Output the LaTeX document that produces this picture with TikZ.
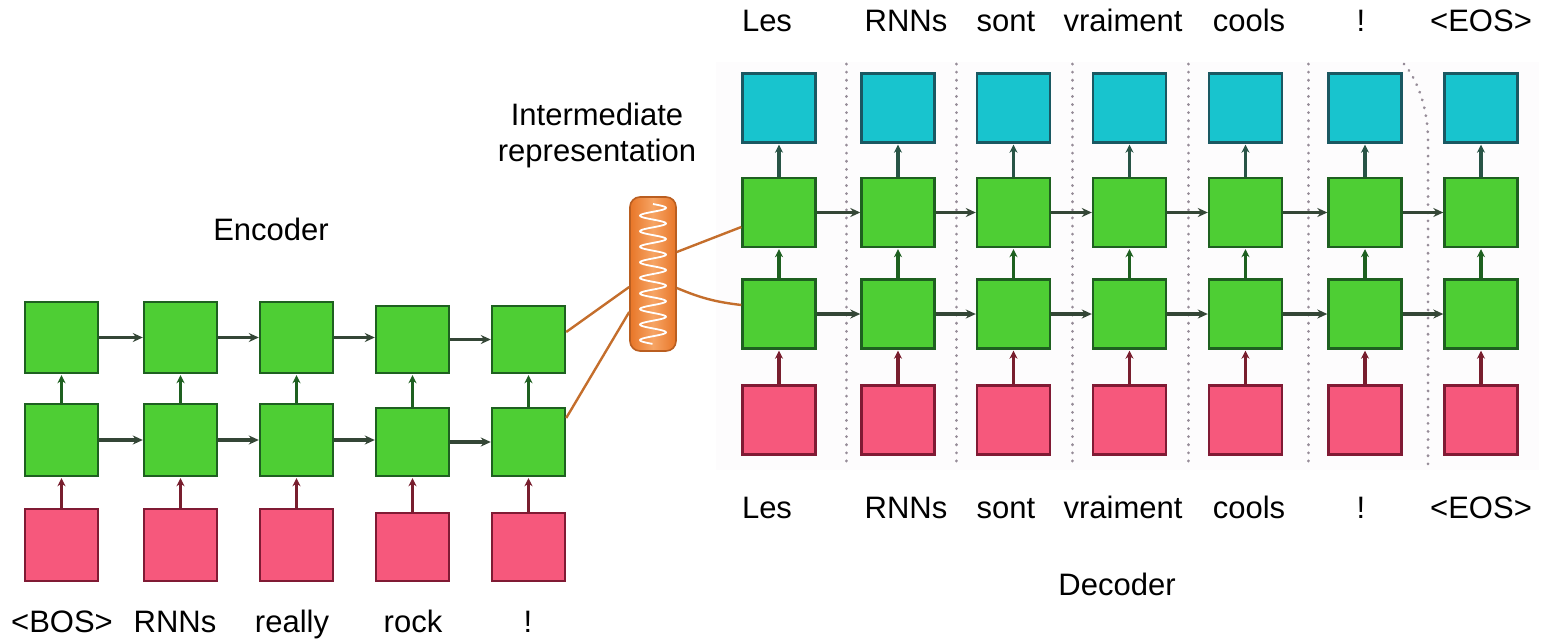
\documentclass[tikz,border=0pt]{standalone}
\usepackage{fontspec}
\setmainfont{Liberation Sans}
\usetikzlibrary{arrows.meta}

\definecolor{cellgreen}{RGB}{78,206,52}
\definecolor{cellgreenline}{RGB}{30,96,32}
\definecolor{cellpink}{RGB}{246,88,124}
\definecolor{cellpinkline}{RGB}{128,26,52}
\definecolor{cellcyan}{RGB}{24,196,206}
\definecolor{cellcyanline}{RGB}{26,88,98}
\definecolor{flowgray}{RGB}{52,70,54}
\definecolor{flowred}{RGB}{120,30,46}
\definecolor{flowteal}{RGB}{40,84,70}
\definecolor{linkorange}{RGB}{196,110,44}
\definecolor{reporange}{RGB}{232,118,40}
\definecolor{reporangelight}{RGB}{246,164,100}
\definecolor{sepgray}{RGB}{150,140,152}
\definecolor{panelbg}{RGB}{253,252,253}

\begin{document}
\begin{tikzpicture}[x=1pt,y=-1pt,
  cell/.style={draw, line width=2.4pt, minimum width=73pt, minimum height=69pt, inner sep=0pt},
  gcell/.style={cell, fill=cellgreen, draw=cellgreenline},
  pcell/.style={cell, fill=cellpink, draw=cellpinkline},
  ccell/.style={cell, fill=cellcyan, draw=cellcyanline},
  lbl/.style={font=\fontsize{31}{37}\selectfont, anchor=base, inner sep=0pt},
  hflow/.style={draw=flowgray, line width=3.4pt, -{Stealth[length=10pt,width=9pt]}},
  vflow/.style={line width=3.2pt, -{Stealth[length=8pt,width=8pt]}, shorten >=1pt},
  link/.style={draw=linkorange, line width=2.4pt},
  sepline/.style={draw=sepgray, line width=3pt, line cap=round, dash pattern=on 0.1pt off 8pt}
]
\useasboundingbox (0,0) rectangle (1541,642);

% faint panel behind the decoder grid
\fill[panelbg] (716,62) rectangle (1539,470);

% dotted separators between decoder time steps
\foreach \sx in {846,956,1072,1188,1308}
  \draw[sepline] (\sx,64) -- (\sx,468);
\draw[sepline] (1404,64) .. controls (1418,80) and (1428,110) .. (1428,140) -- (1428,468);

% ---------------- encoder ----------------
\foreach \i/\cx/\h/\d in {1/61.5/71/0,2/180.5/71/0,3/296.5/71/0,4/412.5/67/2,5/528.5/67/2} {
  \node[gcell, minimum height=\h pt] (eh\i) at (\cx,337.5+\d) {};
  \node[gcell, minimum height=\h pt+1pt] (el\i) at (\cx,440+\d) {};
  \node[pcell, minimum height=\h pt+1pt] (ep\i) at (\cx,545+\d) {};
  \draw[vflow, draw=flowred] (ep\i.north) -- (el\i.south);
  \draw[vflow, draw=cellgreenline] (el\i.north) -- (eh\i.south);
}
\foreach \i [evaluate=\i as \j using int(\i+1)] in {1,...,4} {
  \draw[hflow] (eh\i.east) -- (eh\i.east -| eh\j.west);
  \draw[hflow] (el\i.east) -- (el\i.east -| el\j.west);
}

% ---------------- decoder ----------------
\foreach \i/\cx in {1/779,2/898,3/1013.5,4/1129.5,5/1245.5,6/1365,7/1481} {
  \node[ccell] (dc\i) at (\cx,108) {};
  \node[gcell] (dh\i) at (\cx,212.5) {};
  \node[gcell] (dl\i) at (\cx,314) {};
  \node[pcell] (dp\i) at (\cx,420) {};
  \draw[vflow, draw=flowred] (dp\i.north) -- (dl\i.south);
  \draw[vflow, draw=cellgreenline] (dl\i.north) -- (dh\i.south);
  \draw[vflow, draw=flowteal] (dh\i.north) -- (dc\i.south);
}
\foreach \i [evaluate=\i as \j using int(\i+1)] in {1,...,6} {
  \draw[hflow] (dh\i.east) -- (dh\j.west);
  \draw[hflow] (dl\i.east) -- (dl\j.west);
}

% ---------------- intermediate representation ----------------
\node[draw=reporange!80!black, line width=1.6pt, rounded corners=10pt,
      minimum width=46pt, minimum height=154pt, inner sep=0pt,
      left color=reporange, right color=reporange, middle color=reporangelight]
      (ir) at (653,274) {};
\draw[white, line width=1.8pt, line join=round]
  plot[domain=0:1, samples=240] ({653+13*sin(\x*3240)},{204+140*\x});

\draw[link] ([yshift=7.5pt]eh5.east) -- ([yshift=-13pt]ir.west);
\draw[link] ([yshift=24pt]el5.east) -- ([yshift=-38pt]ir.west);
\draw[link] ([yshift=22pt]ir.east) -- ([yshift=-14.5pt]dh1.west);
\draw[link] ([yshift=-14pt]ir.east) to[bend right=8] ([yshift=9pt]dl1.west);

% ---------------- labels ----------------
\node[lbl] (tEnc) at (271,240) {Encoder};
\node[lbl] (tInt) at (597,125) {Intermediate};
\node[lbl] (tRep) at (597,161) {representation};
\node[lbl] (tDec) at (1117,595) {Decoder};

\foreach \n/\cx/\t in {1/62/{<BOS>},2/175/RNNs,3/292/really,4/413/rock,5/528/!}
  \node[lbl] (ein\n) at (\cx,632) {\t};

\foreach \n/\cx/\t in {1/767/Les,2/906/RNNs,3/1006/sont,4/1123/vraiment,5/1249/cools,6/1361/!,7/1481/{<EOS>}} {
  \node[lbl] (dout\n) at (\cx,32) {\t};
  \node[lbl] (din\n) at (\cx,518) {\t};
}
\end{tikzpicture}
\end{document}
